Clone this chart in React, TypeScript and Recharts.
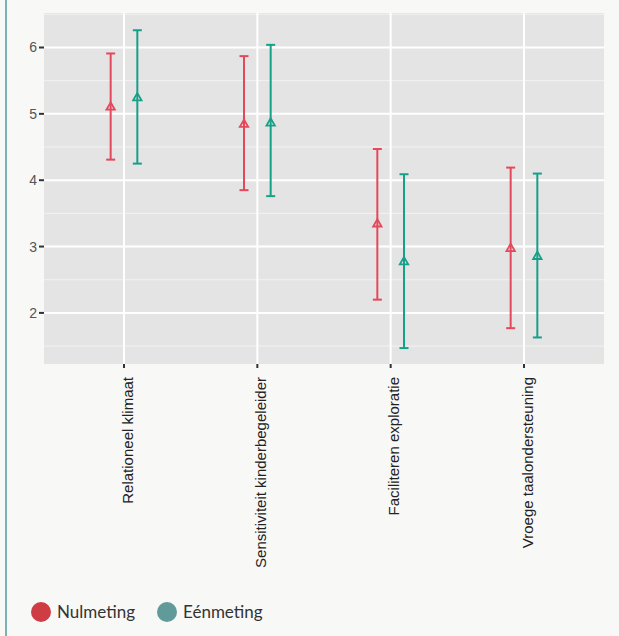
import React from "react";
import {
  ScatterChart,
  Scatter,
  ErrorBar,
  XAxis,
  YAxis,
  CartesianGrid,
} from "recharts";

const categories = [
  "Relationeel klimaat",
  "Sensitiviteit kinderbegeleider",
  "Faciliteren exploratie",
  "Vroege taalondersteuning",
];

// Nulmeting
const nulMean = [5.11, 4.85, 3.35, 2.98];
const nulLow = [4.31, 3.85, 2.2, 1.77];
const nulHigh = [5.91, 5.87, 4.47, 4.19];

// Eénmeting
const eenMean = [5.25, 4.87, 2.78, 2.86];
const eenLow = [4.25, 3.76, 1.47, 1.63];
const eenHigh = [6.26, 6.04, 4.09, 4.1];

const yTicks = [2, 3, 4, 5, 6];
const yMinorTicks = [1.5, 2.5, 3.5, 4.5, 5.5, 6.5];
const xTicks = [1, 2, 3, 4];

const RED = "#e4485b";
const TEAL = "#17a088";
const DODGE = 0.1;

function rows(mean: number[], low: number[], high: number[], shift: number) {
  return categories.map((_, i) => ({
    x: i + 1 + shift,
    y: mean[i],
    err: [mean[i] - low[i], high[i] - mean[i]],
  }));
}

const nulRows = rows(nulMean, nulLow, nulHigh, -DODGE);
const eenRows = rows(eenMean, eenLow, eenHigh, DODGE);

function triangle(color: string) {
  return (props: any) => {
    const { cx, cy } = props;
    const s = 4.2;
    return (
      <polygon
        points={`${cx},${cy - s} ${cx - s},${cy + s * 0.75} ${cx + s},${cy + s * 0.75}`}
        fill="none"
        stroke={color}
        strokeWidth={1.8}
      />
    );
  };
}

function CategoryTick(props: any) {
  const { x, y, payload } = props;
  const label = categories[payload.value - 1] ?? "";
  const tx = x + 3;
  const ty = y + 7;
  return (
    <text
      x={tx}
      y={ty}
      transform={`rotate(-90, ${tx}, ${ty})`}
      textAnchor="end"
      dominantBaseline="central"
      fontSize={15}
      fill="#222"
      fontFamily="'Liberation Sans', Arial, sans-serif"
    >
      {label}
    </text>
  );
}

export default function App() {
  return (
    <div
      style={{
        position: "absolute",
        left: 0,
        top: 0,
        width: 619,
        height: 636,
        background: "#f8f8f6",
        fontFamily: "'Liberation Sans', Arial, sans-serif",
      }}
    >
      <div
        style={{
          position: "absolute",
          left: 5,
          top: 0,
          width: 2,
          height: 636,
          background: "#79b3b4",
        }}
      />
      <ScatterChart
        width={619}
        height={636}
        margin={{ top: 13, right: 15, left: 0, bottom: 0 }}
      >
        <CartesianGrid
          horizontalValues={yMinorTicks}
          vertical={false}
          stroke="#f2f2f2"
          strokeWidth={1}
          fill="#e4e4e4"
          fillOpacity={1}
        />
        <CartesianGrid
          horizontalValues={yTicks}
          verticalValues={xTicks}
          stroke="#ffffff"
          strokeWidth={2}
        />
        <XAxis
          type="number"
          dataKey="x"
          domain={[0.4, 4.6]}
          ticks={xTicks}
          allowDataOverflow
          axisLine={false}
          tickSize={4}
          tickLine={{ stroke: "#333", strokeWidth: 2 }}
          tick={<CategoryTick />}
          height={272}
          interval={0}
        />
        <YAxis
          type="number"
          dataKey="y"
          domain={[1.23, 6.52]}
          ticks={yTicks}
          allowDataOverflow
          axisLine={false}
          tickSize={5}
          tickLine={{ stroke: "#333", strokeWidth: 2 }}
          tick={{ fontSize: 14, fill: "#555" }}
          width={44}
        />
        <Scatter
          name="Nulmeting"
          data={nulRows}
          shape={triangle(RED)}
          isAnimationActive={false}
        >
          <ErrorBar
            dataKey="err"
            direction="y"
            width={4.5}
            stroke={RED}
            strokeWidth={2}
          />
        </Scatter>
        <Scatter
          name="Eénmeting"
          data={eenRows}
          shape={triangle(TEAL)}
          isAnimationActive={false}
        >
          <ErrorBar
            dataKey="err"
            direction="y"
            width={4.5}
            stroke={TEAL}
            strokeWidth={2}
          />
        </Scatter>
      </ScatterChart>
      <div
        style={{
          position: "absolute",
          left: 31,
          top: 601,
          display: "flex",
          alignItems: "center",
          fontFamily: "Lato, 'Open Sans', sans-serif",
          fontSize: 17,
          color: "#333",
        }}
      >
        <span
          style={{
            width: 20,
            height: 20,
            borderRadius: 10,
            background: "#cf3d44",
            display: "inline-block",
            marginRight: 6,
          }}
        />
        <span style={{ marginRight: 22 }}>Nulmeting</span>
        <span
          style={{
            width: 20,
            height: 20,
            borderRadius: 10,
            background: "#609a99",
            display: "inline-block",
            marginRight: 6,
          }}
        />
        <span>Eénmeting</span>
      </div>
    </div>
  );
}
